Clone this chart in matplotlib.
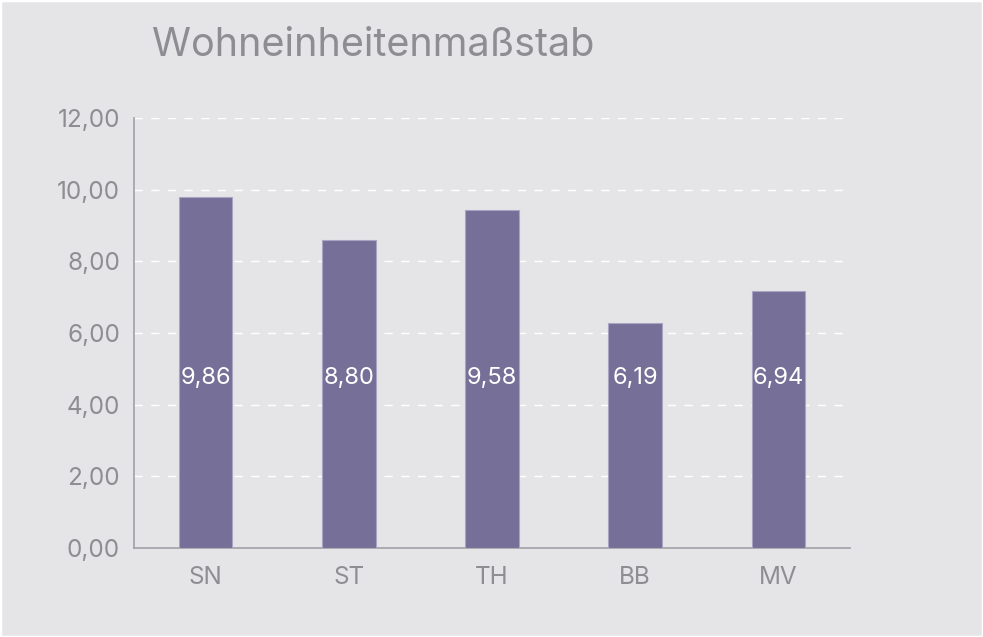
import matplotlib
matplotlib.use("Agg")
import matplotlib.pyplot as plt
from matplotlib.patches import Rectangle
from matplotlib.ticker import FuncFormatter

# data
categories = ["SN", "ST", "TH", "BB", "MV"]
bar_heights = [9.79, 8.59, 9.42, 6.29, 7.16]
bar_labels = ["9,86", "8,80", "9,58", "6,19", "6,94"]
yticks = [0, 2, 4, 6, 8, 10, 12]

BG = "#e5e5e8"
BAR = "#767098"
GREY = "#8e8e92"

plt.rcParams["font.family"] = ["Inter", "DejaVu Sans"]

fig = plt.figure(figsize=(9.83, 6.37), dpi=100, facecolor=BG)
ax = fig.add_axes([0.1363, 0.1397, 0.7284, 0.675], facecolor=BG)

x = range(len(categories))
ax.bar(x, bar_heights, width=0.375, color=BAR, edgecolor="#a8a4c4", linewidth=0.8, zorder=3)
for i, lab in zip(x, bar_labels):
    ax.text(i, 4.75, lab, ha="center", va="center", color="white", fontsize=17, zorder=4)

ax.set_xlim(-0.5, len(categories) - 0.5)
ax.set_ylim(0, 12)
ax.set_yticks(yticks)
ax.yaxis.set_major_formatter(FuncFormatter(lambda v, p: f"{v:.2f}".replace(".", ",")))
ax.set_xticks(list(x))
ax.set_xticklabels(categories)
ax.tick_params(axis="both", length=0, colors=GREY, labelsize=17.5)
ax.tick_params(axis="y", pad=10)
ax.tick_params(axis="x", pad=13)

ax.grid(axis="y", color="white", linestyle=(0, (6, 6)), linewidth=1, zorder=0)
for s in ["top", "right"]:
    ax.spines[s].set_visible(False)
for s in ["left", "bottom"]:
    ax.spines[s].set_color("#a0a0a6")
    ax.spines[s].set_linewidth(1.2)

fig.text(152 / 983, 1 - 45 / 637, "Wohneinheitenmaßstab", ha="left", va="center",
         color=GREY, fontsize=28.5)

# thin white frame around the picture
fig.patches.append(Rectangle((0, 0), 1, 1, transform=fig.transFigure, fill=False,
                             edgecolor="white", linewidth=2.5))

fig.savefig("out.png", dpi=100, facecolor=BG)
